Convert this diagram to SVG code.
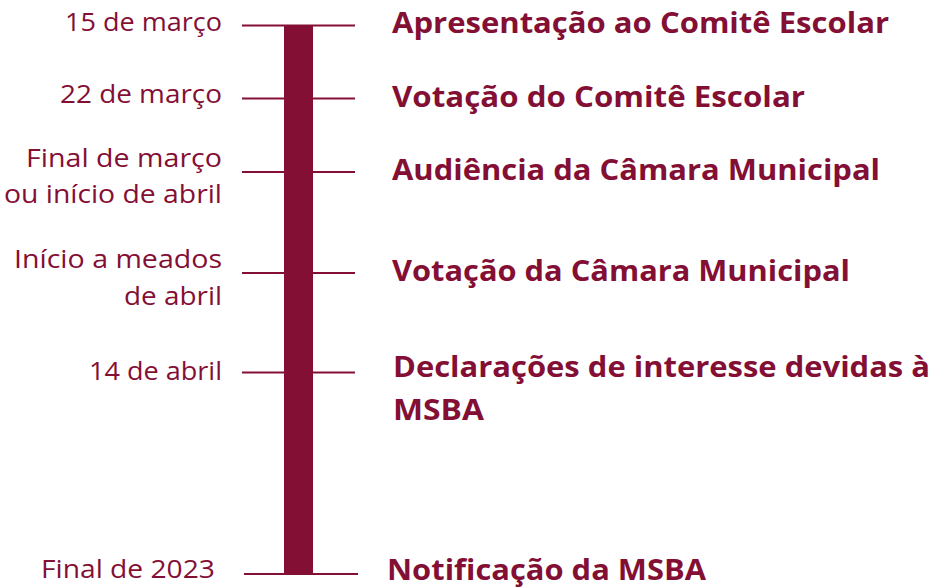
<svg xmlns="http://www.w3.org/2000/svg" width="935" height="587" viewBox="0 0 935 587">
<style>
.d{font-family:"Open Sans","Liberation Sans",sans-serif;font-size:25px;fill:#840f35;text-anchor:end}
.e{font-family:"Open Sans","Liberation Sans",sans-serif;font-size:28px;font-weight:700;fill:#840f35}
.t{stroke:#840f35;stroke-width:2}
</style>
<rect width="935" height="587" fill="#ffffff"/>
<g id="connectors">
<rect x="284" y="25" width="29" height="549" fill="#840f35"/>
<line class="t" x1="242" y1="25.5" x2="355" y2="25.5"/>
<line class="t" x1="242" y1="98.5" x2="355" y2="98.5"/>
<line class="t" x1="242" y1="172" x2="355" y2="172"/>
<line class="t" x1="242" y1="273" x2="355" y2="273"/>
<line class="t" x1="242" y1="372.5" x2="355" y2="372.5"/>
<line class="t" x1="244" y1="574" x2="358" y2="574"/>
</g>
<g id="n1">
<text class="d" x="222" y="31" textLength="157" lengthAdjust="spacingAndGlyphs">15 de março</text>
<text class="e" x="392" y="33" textLength="497" lengthAdjust="spacingAndGlyphs">Apresentação ao Comitê Escolar</text>
</g>
<g id="n2">
<text class="d" x="222" y="103" textLength="162" lengthAdjust="spacingAndGlyphs">22 de março</text>
<text class="e" x="392" y="107" textLength="413" lengthAdjust="spacingAndGlyphs">Votação do Comitê Escolar</text>
</g>
<g id="n3">
<text class="d" x="222" y="167" textLength="196" lengthAdjust="spacingAndGlyphs">Final de março</text>
<text class="d" x="222" y="203" textLength="218" lengthAdjust="spacingAndGlyphs">ou início de abril</text>
<text class="e" x="392" y="180" textLength="488" lengthAdjust="spacingAndGlyphs">Audiência da Câmara Municipal</text>
</g>
<g id="n4">
<text class="d" x="222" y="268" textLength="208" lengthAdjust="spacingAndGlyphs">Início a meados</text>
<text class="d" x="222" y="305" textLength="98" lengthAdjust="spacingAndGlyphs">de abril</text>
<text class="e" x="392" y="281" textLength="458" lengthAdjust="spacingAndGlyphs">Votação da Câmara Municipal</text>
</g>
<g id="n5">
<text class="d" x="222" y="380" textLength="133" lengthAdjust="spacingAndGlyphs">14 de abril</text>
<text class="e" x="393" y="377" textLength="537" lengthAdjust="spacingAndGlyphs">Declarações de interesse devidas à</text>
<text class="e" x="393" y="420" textLength="91" lengthAdjust="spacingAndGlyphs">MSBA</text>
</g>
<g id="n6">
<text class="d" x="215" y="578" textLength="174" lengthAdjust="spacingAndGlyphs">Final de 2023</text>
<text class="e" x="387" y="580" textLength="319" lengthAdjust="spacingAndGlyphs">Notificação da MSBA</text>
</g>
</svg>
